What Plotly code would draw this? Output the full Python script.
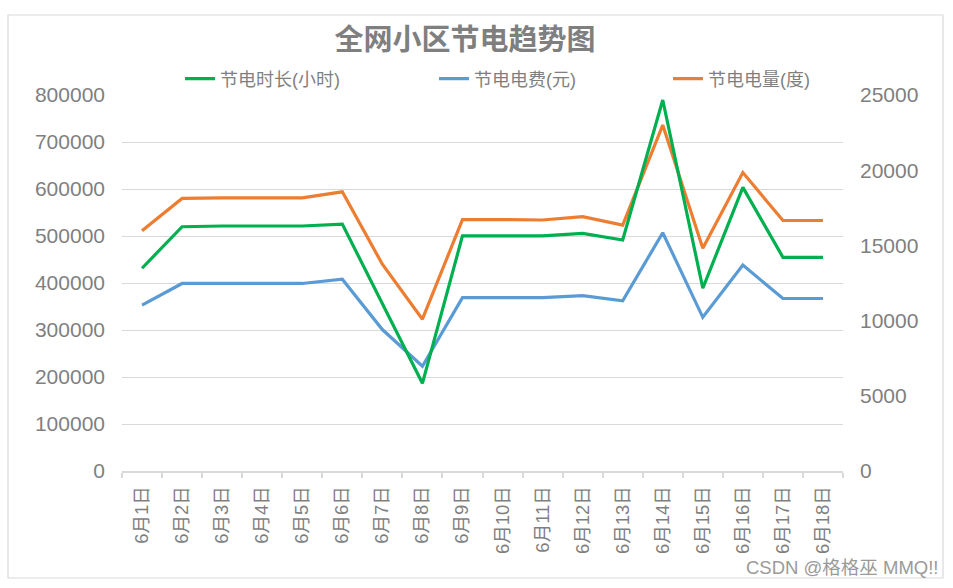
import plotly.graph_objects as go

dates = ["6月1日", "6月2日", "6月3日", "6月4日", "6月5日", "6月6日", "6月7日", "6月8日", "6月9日",
         "6月10日", "6月11日", "6月12日", "6月13日", "6月14日", "6月15日", "6月16日", "6月17日", "6月18日"]

# 节电时长(小时) - right axis
hours = [13480, 16240, 16290, 16290, 16290, 16420, 11140, 5830, 15630,
         15630, 15630, 15800, 15360, 24670, 12150, 18860, 14210, 14210]
# 节电电费(元) - left axis
cost = [353000, 399000, 399000, 399000, 399000, 408000, 301000, 223000, 369000,
        369000, 369000, 373000, 362000, 507000, 327000, 438000, 367000, 367000]
# 节电电量(度) - left axis
energy = [511000, 580000, 581000, 581000, 581000, 594000, 440000, 323000, 535000,
          535000, 534000, 541000, 523000, 736000, 474000, 635000, 533000, 533000]

left_ticks = [0, 100000, 200000, 300000, 400000, 500000, 600000, 700000, 800000]
right_ticks = [0, 5000, 10000, 15000, 20000, 25000]

GRAY = "#7f7f7f"
FONT = "Liberation Sans, Noto Sans CJK SC, sans-serif"
CJK = "Noto Sans CJK SC, Liberation Sans, sans-serif"

fig = go.Figure()
fig.add_trace(go.Scatter(x=dates, y=hours, name="节电时长(小时)", mode="lines",
                         line=dict(color="#00b050", width=3.2), yaxis="y2",
                         legend="legend", showlegend=True))
fig.add_trace(go.Scatter(x=dates, y=cost, name="节电电费(元)", mode="lines",
                         line=dict(color="#5b9bd5", width=3.2), legend="legend2", showlegend=True))
fig.add_trace(go.Scatter(x=dates, y=energy, name="节电电量(度)", mode="lines",
                         line=dict(color="#ed7d31", width=3.2), legend="legend3", showlegend=True))

PL, PR, PT, PB = 122, 843, 95, 471
W, H = 953, 588
pw, ph = PR - PL, PB - PT

def px(x):
    return (x - PL) / pw

def py(y):
    return (PB - y) / ph

leg_common = dict(orientation="h", yanchor="middle", xanchor="left", visible=True,
                  font=dict(family=FONT, size=18, color=GRAY), bgcolor="rgba(0,0,0,0)")

fig.update_layout(
    width=W, height=H, showlegend=True,
    margin=dict(l=PL, r=W - PR, t=PT, b=H - PB),
    paper_bgcolor="white", plot_bgcolor="white",
    title=dict(text="<b>全网小区节电趋势图</b>", x=465 / W, xanchor="center",
               y=1 - 40 / H, yanchor="middle", font=dict(family=CJK, size=29, color=GRAY)),
    legend=dict(x=px(180), y=py(79), **leg_common),
    legend2=dict(x=px(434), y=py(79), **leg_common),
    legend3=dict(x=px(668), y=py(79), **leg_common),
    xaxis=dict(type="category", range=[-0.5, len(dates) - 0.5], tickangle=-90,
               showgrid=False, showline=True,
               linecolor="#d9d9d9", linewidth=1.5, ticks="outside", tickson="boundaries",
               ticklen=5, tickcolor="#d9d9d9", tickwidth=1.5,
               tickfont=dict(family=FONT, size=18.5, color=GRAY), ticklabelstandoff=6),
    yaxis=dict(range=[0, 800000], tickvals=left_ticks, tickformat="d", showgrid=True,
               gridcolor="#d9d9d9", gridwidth=1.3, zeroline=False, showline=False,
               tickfont=dict(family=FONT, size=21, color=GRAY), ticklabelstandoff=16),
    yaxis2=dict(range=[0, 25000], tickvals=right_ticks, tickformat="d", overlaying="y",
                side="right", showgrid=False, zeroline=False, showline=False,
                tickfont=dict(family=FONT, size=21, color=GRAY), ticklabelstandoff=16),
    shapes=[dict(type="rect", xref="paper", yref="paper",
                 x0=px(8), x1=px(943), y0=py(578), y1=py(15),
                 line=dict(color="#d9d9d9", width=1.2), fillcolor="rgba(0,0,0,0)",
                 layer="below")],
    annotations=[dict(text="CSDN @格格巫 MMQ!!", xref="paper", yref="paper",
                      x=px(940), y=py(567), xanchor="right", yanchor="middle",
                      showarrow=False, font=dict(family=FONT, size=18.5, color="#9a9a9a"))],
)

fig.write_html("out.html")
